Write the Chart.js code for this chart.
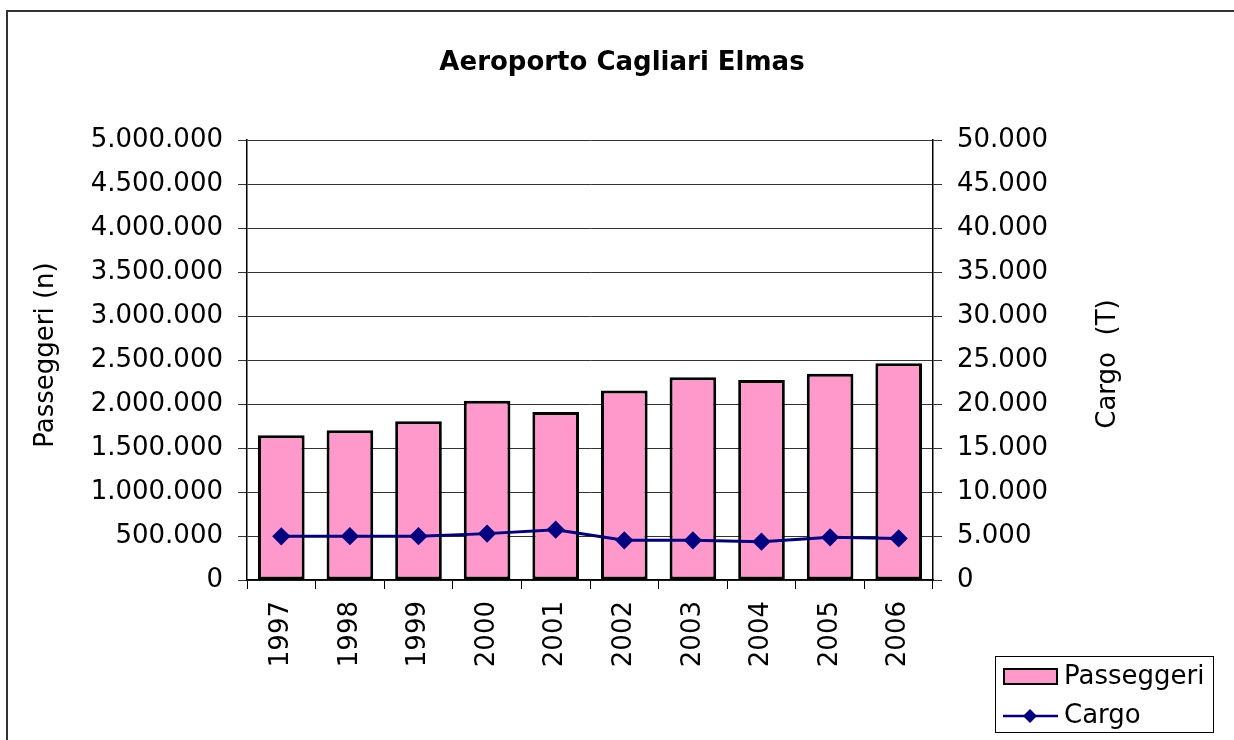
<!DOCTYPE html>
<html>
<head>
<meta charset="utf-8">
<script src="https://cdn.jsdelivr.net/npm/chart.js@4"></script>
<style>
  html, body { margin: 0; padding: 0; background: #fff; overflow: hidden; }
  #wrap { position: relative; width: 1234px; height: 740px; }
  #frame { position: absolute; left: 6px; top: 10px; width: 1300px; height: 800px; border: 2px solid #333; box-sizing: border-box; }
  canvas { position: absolute; left: 0; top: 0; }
</style>
</head>
<body>
<div id="wrap">
  <div id="frame"></div>
  <canvas id="main-chart" width="1234" height="740"></canvas>
</div>
<script>
// Data
const years = ['1997', '1998', '1999', '2000', '2001', '2002', '2003', '2004', '2005', '2006'];
const passeggeri = [1644000, 1701000, 1803000, 2038000, 1909000, 2152000, 2303000, 2273000, 2345000, 2462000];
const cargo = [4970, 4980, 4980, 5270, 5720, 4510, 4510, 4360, 4850, 4730];

const FONT = 'DejaVu Sans, Verdana, sans-serif';
const PINK = '#FF99CC';
const NAVY = '#000080';

// Utilities
function fmt(v) {
    return String(v).replace(/\B(?=(\d{3})+(?!\d))/g, '.');
}

// title, axis titles and legend drawn by hand
const decorations = {
    id: 'decorations',
    afterDraw(chart) {
        const ctx = chart.ctx;
        ctx.save();
        ctx.fillStyle = '#000';

        ctx.font = 'bold 26px ' + FONT;
        ctx.textAlign = 'center';
        ctx.textBaseline = 'alphabetic';
        ctx.fillText('Aeroporto Cagliari Elmas', 622, 70);

        ctx.font = '26px ' + FONT;
        ctx.textBaseline = 'middle';
        ctx.translate(46, 355);
        ctx.rotate(-Math.PI / 2);
        ctx.fillText('Passeggeri (n)', 0, 0);
        ctx.setTransform(1, 0, 0, 1, 0, 0);
        ctx.translate(1108, 364);
        ctx.rotate(-Math.PI / 2);
        ctx.fillText('Cargo  (T)', 0, 0);
        ctx.setTransform(1, 0, 0, 1, 0, 0);

        // legend
        ctx.strokeStyle = '#000';
        ctx.lineWidth = 1;
        ctx.strokeRect(995.5, 656.5, 218, 76);

        ctx.fillStyle = PINK;
        ctx.fillRect(1003, 668, 55, 17);
        ctx.lineWidth = 2;
        ctx.strokeRect(1004, 669, 53, 15);

        ctx.strokeStyle = NAVY;
        ctx.lineWidth = 2.5;
        ctx.beginPath();
        ctx.moveTo(1003, 716);
        ctx.lineTo(1058, 716);
        ctx.stroke();
        ctx.fillStyle = NAVY;
        ctx.beginPath();
        ctx.moveTo(1030, 709);
        ctx.lineTo(1037, 716);
        ctx.lineTo(1030, 723);
        ctx.lineTo(1023, 716);
        ctx.closePath();
        ctx.fill();

        ctx.fillStyle = '#000';
        ctx.textAlign = 'left';
        ctx.textBaseline = 'middle';
        ctx.font = '26px ' + FONT;
        ctx.fillText('Passeggeri', 1064, 677);
        ctx.fillText('Cargo', 1064, 716);
        ctx.restore();
    }
};

const chartCanvas = document.getElementById('main-chart');

new Chart(chartCanvas, {
    type: 'bar',
    data: {
        labels: years,
        datasets: [
            {
                type: 'line',
                label: 'Cargo',
                data: cargo,
                yAxisID: 'y1',
                order: 0,
                borderColor: NAVY,
                borderWidth: 3,
                backgroundColor: NAVY,
                pointStyle: 'rectRot',
                pointRadius: 7,
                pointBackgroundColor: NAVY,
                pointBorderColor: NAVY,
                tension: 0,
                fill: false
            },
            {
                type: 'bar',
                label: 'Passeggeri',
                data: passeggeri,
                yAxisID: 'y',
                order: 1,
                backgroundColor: PINK,
                borderColor: '#000',
                borderWidth: 3,
                borderSkipped: false,
                barPercentage: 0.68,
                categoryPercentage: 1
            }
        ]
    },
    options: {
        responsive: false,
        animation: false,
        layout: { padding: { top: 140, left: 0, right: 0, bottom: 0 } },
        plugins: {
            legend: { display: false },
            title: { display: false },
            tooltip: { enabled: false }
        },
        scales: {
            x: {
                grid: { offset: true, drawOnChartArea: false, tickLength: 9, color: '#000' },
                border: { color: '#000', width: 1.5 },
                ticks: {
                    minRotation: 90, maxRotation: 90, padding: 12,
                    color: '#000', font: { family: FONT, size: 26 }
                },
                afterFit(s) { s.height = 160; }
            },
            y: {
                position: 'left',
                min: 0, max: 5000000,
                grid: { color: '#333', tickLength: 9 },
                border: { color: '#000', width: 1.5 },
                ticks: {
                    stepSize: 500000, padding: 15, color: '#000',
                    font: { family: FONT, size: 26 },
                    callback: v => fmt(v)
                },
                afterFit(s) { s.width = 247; }
            },
            y1: {
                position: 'right',
                min: 0, max: 50000,
                grid: { drawOnChartArea: false, color: '#333', tickLength: 9 },
                border: { color: '#000', width: 1.5 },
                ticks: {
                    stepSize: 5000, padding: 15, color: '#000',
                    font: { family: FONT, size: 26 },
                    callback: v => fmt(v)
                },
                afterFit(s) { s.width = 301; }
            }
        }
    },
    plugins: [decorations]
});
</script>
</body>
</html>
